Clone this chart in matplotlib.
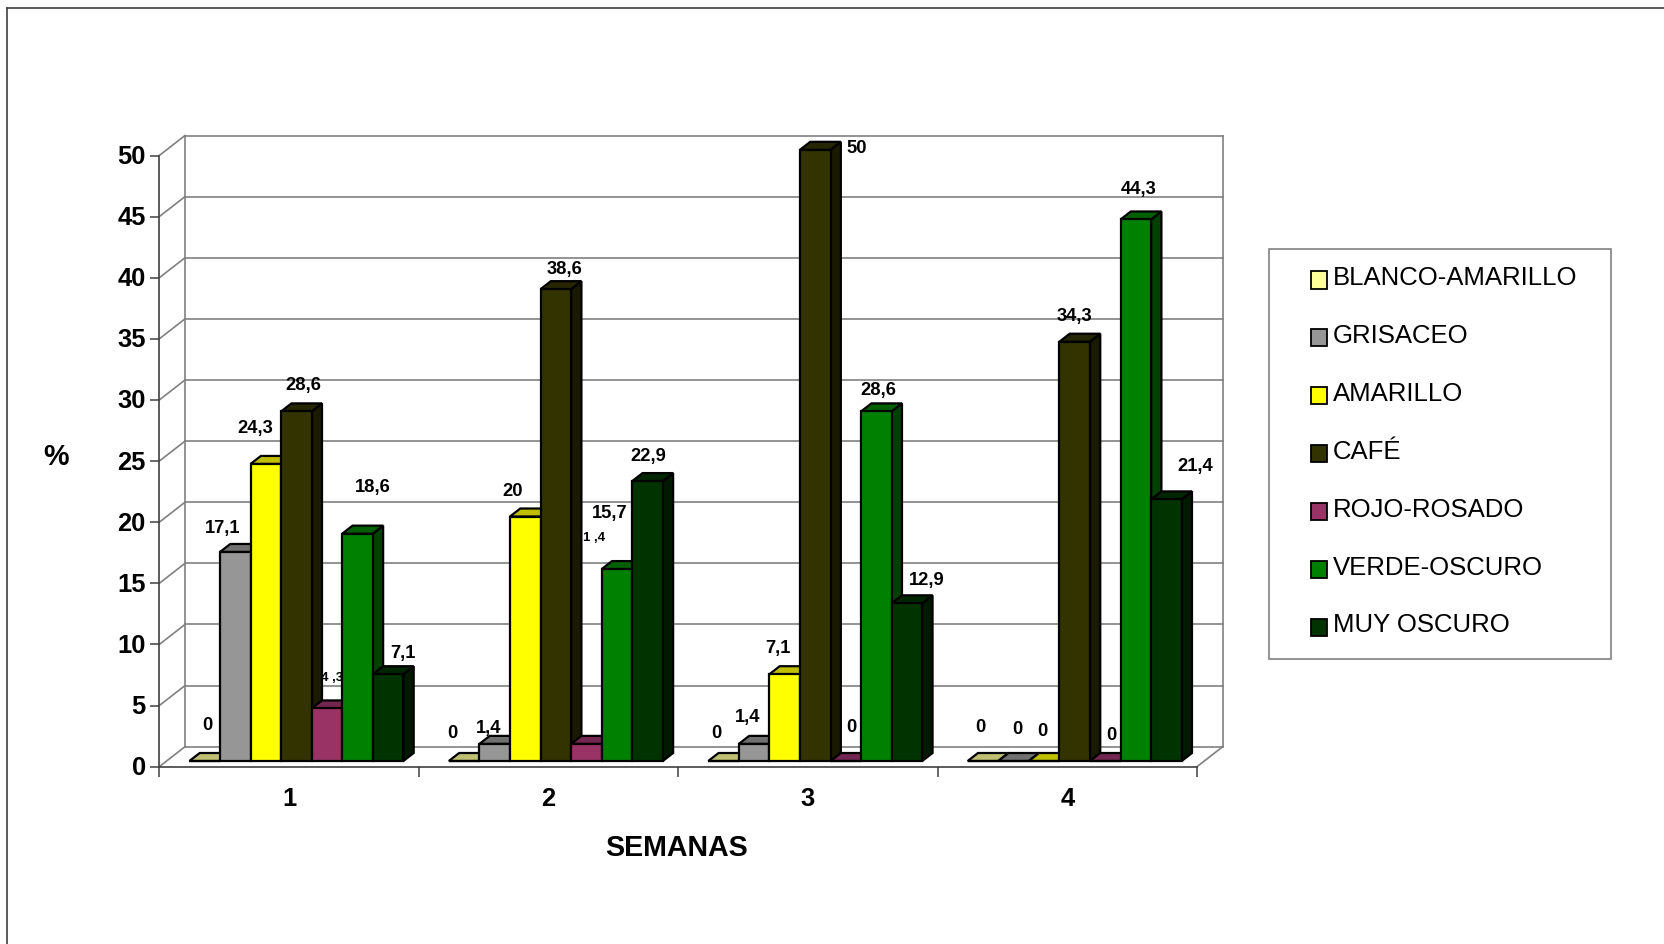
import matplotlib
matplotlib.use("Agg")
import matplotlib.pyplot as plt
from matplotlib.lines import Line2D
from matplotlib.patches import Patch, Polygon, Rectangle
from matplotlib.transforms import ScaledTranslation

plt.rcParams['font.family'] = ['Liberation Sans', 'DejaVu Sans']

# data
semanas = ['1', '2', '3', '4']
series_names = ['BLANCO-AMARILLO', 'GRISACEO', 'AMARILLO', 'CAFÉ', 'ROJO-ROSADO', 'VERDE-OSCURO', 'MUY OSCURO']
blanco = [0, 0, 0, 0]
grisaceo = [17.1, 1.4, 1.4, 0]
amarillo = [24.3, 20, 7.1, 0]
cafe = [28.6, 38.6, 50, 34.3]
rojo = [4.3, 1.4, 0, 0]
verde = [18.6, 15.7, 28.6, 44.3]
muy_oscuro = [7.1, 22.9, 12.9, 21.4]
all_series = [blanco, grisaceo, amarillo, cafe, rojo, verde, muy_oscuro]

# front, top, side colours of each series
front_colors = ['#FFFF99', '#969696', '#FFFF00', '#333300', '#993366', '#008000', '#003300']
top_colors = ['#BFBF73', '#707070', '#BFBF00', '#262600', '#732650', '#006000', '#002600']
side_colors = ['#808050', '#4B4B4B', '#808000', '#1A1A00', '#4D1A33', '#004000', '#001A00']

# label offset from the top of each bar, in pixels (one row per week)
label_offsets = [
    [(3, 37), (-13, 24), (-11, 36), (7, 27), (5, 31), (15, 47), (15, 22)],
    [(-12, 29), (-6, 16), (-13, 26), (9, 21), (8, 207), (-7, 57), (1, 26)],
    [(-7, 28), (-6, 27), (-7, 27), (41, 2), (6, 34), (2, 22), (20, 24)],
    [(-3, 34), (4, 33), (-2, 31), (0, 26), (6, 27), (3, 31), (29, 34)],
]

W, H = 1664, 945
AX_L, AX_R, AX_T, AX_B = 159.3, 1197, 156.5, 767.7
fig = plt.figure(figsize=(W / 100, H / 100), dpi=100)
ax = fig.add_axes([AX_L / W, 1 - AX_B / H, (AX_R - AX_L) / W, (AX_B - AX_T) / H])
ax.set_xlim(0, 4)
ax.set_ylim(0, 50)
ax.patch.set_visible(False)

px_x = 4 / (AX_R - AX_L)
px_y = 50 / (AX_B - AX_T)
wall_dx, wall_dy = 25.7 * px_x, 20 * px_y
bar_shift_x, bar_shift_y = 7.4 * px_x, 5.7 * px_y
depth_x, depth_y = 10.3 * px_x, 8 * px_y
bar_w = 30.57 * px_x
n_series = len(all_series)
group_gap = (1 - n_series * bar_w) / 2

wall_color = '#808080'
axis_color = '#404040'
wall_lw = 1.2
edge_lw = 1.6

# back walls and floor
for v in range(0, 55, 5):
    ax.plot([wall_dx, 4 + wall_dx], [v + wall_dy, v + wall_dy], color=wall_color, lw=wall_lw, clip_on=False, zorder=1)
    ax.plot([0, wall_dx], [v, v + wall_dy], color=wall_color, lw=wall_lw, clip_on=False, zorder=1)
ax.plot([wall_dx, wall_dx], [wall_dy, 50 + wall_dy], color=wall_color, lw=wall_lw, clip_on=False, zorder=1)
ax.plot([4 + wall_dx, 4 + wall_dx], [wall_dy, 50 + wall_dy], color=wall_color, lw=wall_lw, clip_on=False, zorder=1)
ax.plot([4, 4 + wall_dx], [0, wall_dy], color=wall_color, lw=wall_lw, clip_on=False, zorder=1)

# bars, left to right so each front covers the side of the one before
z = 2
for g in range(len(semanas)):
    for s, values in enumerate(all_series):
        v = values[g]
        x0 = g + bar_shift_x + group_gap + s * bar_w
        x1 = x0 + bar_w
        y0 = bar_shift_y
        y1 = y0 + v
        side = Polygon([(x1, y0), (x1 + depth_x, y0 + depth_y), (x1 + depth_x, y1 + depth_y), (x1, y1)],
                       closed=True, fc=side_colors[s], ec='black', lw=edge_lw, clip_on=False, zorder=z)
        top = Polygon([(x0, y1), (x1, y1), (x1 + depth_x, y1 + depth_y), (x0 + depth_x, y1 + depth_y)],
                      closed=True, fc=top_colors[s], ec='black', lw=edge_lw, clip_on=False, zorder=z)
        ax.add_patch(side)
        ax.add_patch(top)
        ax.bar(x0, v, width=bar_w, bottom=y0, align='edge', color=front_colors[s], edgecolor='black',
               linewidth=edge_lw, clip_on=False, zorder=z + 0.5)
        z += 1

# data labels
for g in range(len(semanas)):
    for s, values in enumerate(all_series):
        v = values[g]
        text = str(v).replace('.', ',')
        size = 13.2
        if s == 4 and v in (4.3, 1.4):
            # these two came out tiny and stretched in the original
            text = text.replace(',', ' ,')
            size = 9.5
        ax.annotate(text, xy=(g + bar_shift_x + group_gap + (s + 0.5) * bar_w, bar_shift_y + v),
                    xytext=label_offsets[g][s], textcoords='offset pixels', ha='center', va='center',
                    fontsize=size, fontweight='bold', color='black', zorder=200, annotation_clip=False)

# axes
for name in ['top', 'right']:
    ax.spines[name].set_visible(False)
for name in ['left', 'bottom']:
    ax.spines[name].set_color(axis_color)
    ax.spines[name].set_linewidth(1.2)
ax.set_yticks(range(0, 55, 5))
ax.tick_params(axis='y', length=6.8, width=1.1, color=axis_color, pad=3.0, labelsize=18.4)
up = ScaledTranslation(0, 1.5 / 72, fig.dpi_scale_trans)
for lab in ax.get_yticklabels():
    lab.set_fontweight('bold')
    lab.set_transform(lab.get_transform() + up)
ax.set_xticks(range(0, 5))
ax.set_xticklabels([])
ax.tick_params(axis='x', which='major', length=7.4, width=1.1, color=axis_color)
ax.set_xticks([i + 0.5 for i in range(4)], minor=True)
ax.set_xticklabels(semanas, minor=True, fontsize=18.4, fontweight='bold')
ax.tick_params(axis='x', which='minor', length=0, pad=14)
ax.set_xlabel('SEMANAS', fontsize=20.6, fontweight='bold', va='center')
ax.xaxis.set_label_coords(0.4987, -0.131)
ax.set_ylabel('%', fontsize=20.6, fontweight='bold', rotation=0, ha='center', va='center')
ax.yaxis.set_label_coords(-0.0995, 0.509)

# legend
fig.add_artist(Rectangle((1269 / W, 1 - 660 / H), 342 / W, 410 / H, transform=fig.transFigure,
                         fc='white', ec=wall_color, lw=1.2, zorder=-1))
handles = [Patch(facecolor=c, edgecolor='black', linewidth=1.3) for c in front_colors]
leg = ax.legend(handles, series_names, loc='upper left', bbox_to_anchor=(1310.5 / W, 1 - 266 / H),
                bbox_transform=fig.transFigure, frameon=False, fontsize=18.5, borderpad=0, borderaxespad=0,
                handlelength=0.66, handleheight=0.66, handletextpad=0.2, labelspacing=1.32)
# swatches sit a bit lower than the text in the original
for p in leg.get_patches():
    p.set_y(p.get_y() - 3.5)

# outer frame, no right or bottom edge in the picture
fig.add_artist(Line2D([7 / W, 7 / W], [0, 1 - 9 / H], color=axis_color, lw=1.2))
fig.add_artist(Line2D([7 / W, 1], [1 - 9 / H, 1 - 9 / H], color=axis_color, lw=1.2))

fig.savefig('out.png', dpi=100)
